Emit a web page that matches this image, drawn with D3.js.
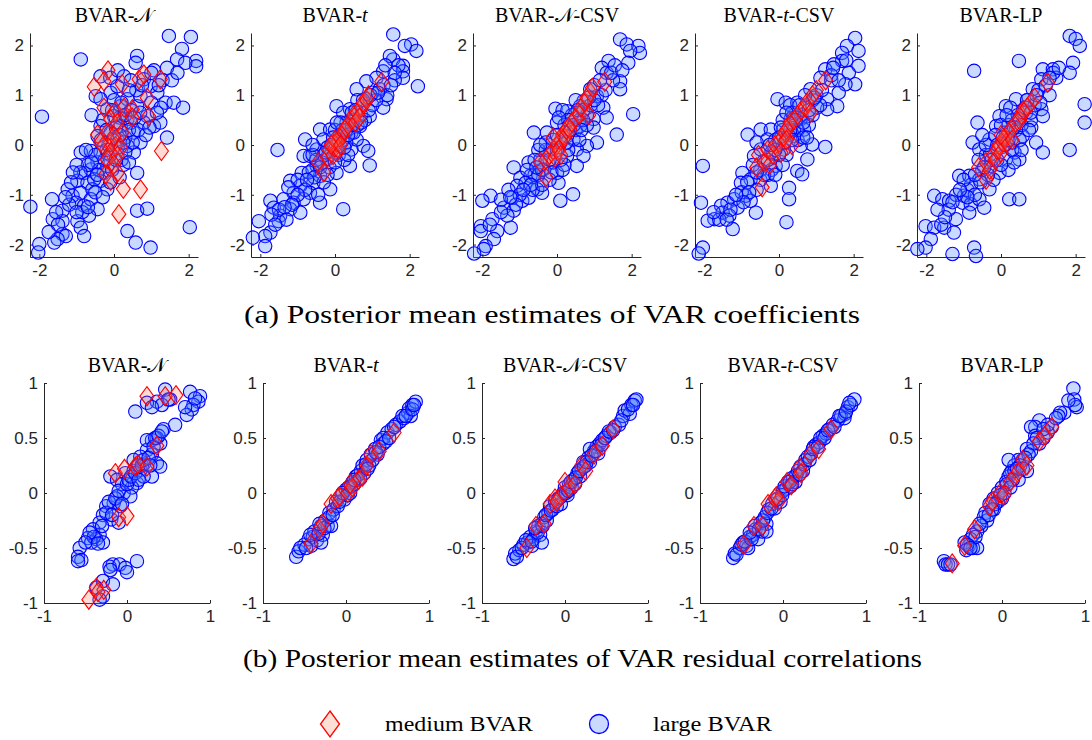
<!DOCTYPE html>
<html>
<head>
<meta charset="utf-8">
<script src="https://cdn.jsdelivr.net/npm/d3@7"></script>
<style>
  body { margin: 0; background: #fff; }
  .domain, .tick line { stroke: #262626; }
</style>
</head>
<body>
<script>
// panel titles: [plain part, math part, trailing part]
const titles = [
  ["BVAR-", "𝒩", ""],
  ["BVAR-", "t", ""],
  ["BVAR-", "𝒩", "-CSV"],
  ["BVAR-", "t", "-CSV"],
  ["BVAR-LP", "", ""]
];
const coefTicksY = [-2, -1, 0, 1, 2];
const coefTicksX = [-2, 0, 2];
const corrTicksY = [-1, -0.5, 0, 0.5, 1];
const corrTicksX = [-1, 0, 1];
const captionA = "(a) Posterior mean estimates of VAR coefficients";
const captionB = "(b) Posterior mean estimates of VAR residual correlations";
const legendLabels = ["medium BVAR", "large BVAR"];

// (a) VAR coefficients, large BVAR (circles)
const coefLargeN = [[1.47,2.19],[2.06,2.17],[1.82,1.93],[-0.89,1.72],[0.62,1.79],[0.58,1.65],[1.69,1.72],[2.2,1.69],[2.2,1.58],[1.91,1.65],
  [1.07,1.5],[1.42,1.55],[-0.36,1.38],[0.27,1.38],[0.8,1.32],[-0.49,0.98],[-0.09,1.05],[0.09,1.18],[0.98,1.18],[1.16,1.05],
  [1.38,0.85],[1.6,0.85],[1.85,0.75],[-1.93,0.57],[-0.18,0.72],[0.18,0.78],[0.62,0.78],[0.89,0.58],[1.07,0.38],[1.24,0.45],
  [1.42,0.15],[-0.36,0.38],[-0.44,0.18],[0.53,0.25],[0.71,0.05],[-0.89,-0.15],[-0.62,-0.12],[-0.36,-0.15],[0.53,-0.15],[0.36,-0.02],
  [-0.44,-0.35],[-0.8,-0.56],[-0.62,-0.49],[-0.27,-0.56],[0.62,-0.56],[-0.98,-0.72],[-0.71,-0.76],[-0.36,-0.72],[-0.18,-0.89],[-1.24,-0.89],
  [-1.11,-1.02],[-0.89,-0.96],[-0.58,-0.89],[-1.66,-1.09],[-1.38,-1.32],[-1.02,-1.16],[-0.8,-1.22],[-0.62,-1.09],[-0.44,-1.29],[-2.24,-1.24],
  [-1.64,-1.49],[-1.38,-1.53],[-0.98,-1.53],[-0.67,-1.42],[-0.89,-1.66],[-1.38,-1.79],[-1.29,-1.83],[-1.51,-1.89],[-1.6,-1.96],[-0.8,-1.83],
  [-2.0,-1.99],[-2.03,-2.16],[0.36,-1.73],[0.58,-1.96],[0.98,-2.06],[0.62,-1.32],[0.89,-1.28],[2.03,-1.65],[0.18,0.38],[0.36,0.52],
  [-0.09,0.25],[0.09,0.11],[0,0.58],[0.36,0.92],[-0.36,0.92],[0.71,0.98],[-0.18,-0.42],[-0.53,-0.69],[0.2,-0.3],[-0.1,-0.2],
  [-0.3,0.5],[-0.2,0.3],[0,0.9],[0.15,0.55],[0.45,0.45],[0.3,0.15],[0.1,-0.05],[-0.05,-0.5],[-0.25,-0.3],[0.25,-0.4],
  [0.45,0.7],[0.6,1.1],[0.75,1.2],[1.0,0.85],[1.25,0.75],[-0.5,-0.2],[-0.7,-0.4],[-1.0,-0.4],[-1.15,-0.75],[-0.5,-0.95],
  [-0.3,-1.05],[0.4,0.3],[0.65,0.3],[0.85,0.2],[1.3,1.3],[1.0,1.45],[-0.1,1.35],[0.4,1.1],[-0.6,0.6],[-0.15,0],
  [0.05,0.35],[0.3,-0.15],[0.8,0.45],[1.15,0.65],[-0.85,-1.35],[-1.2,-1.2],[-1.5,-1.6],[-1.75,-1.75],[0.5,0.05],[0.2,0.85],
  [-0.4,-0.5],[-0.75,-0.1],
  [-0.35,0.1],[-0.2,-0.1],[0.05,-0.3],[0.25,0.05],[0.15,0.2],[-0.05,0.7],[0.3,0.6],[0.55,0.55],[0.7,0.65],[0.95,0.35],
  [-0.6,-0.35],[-0.45,-0.6],[-0.9,-0.55],[-1.1,-0.55],[-1.3,-1.05],[-1.0,-1.35],[-0.7,-1.25],[-1.55,-1.35],[0.45,1.3],[0.1,1.5],
  [1.2,1.2],[1.55,1.3],[1.7,1.45],[-0.1,-0.75],[0.15,-0.65],[0.4,-0.35]];
const coefLargeT = [[1.56,2.22],[2.04,2.02],[1.87,1.99],[2.18,1.89],[1.56,1.72],[1.47,1.79],[1.82,1.59],[1.82,1.48],[1.82,1.35],[2.22,1.18],
  [1.29,1.48],[1.11,1.35],[0.84,1.28],[0.58,1.12],[1.38,0.92],[1.29,0.75],[0.04,0.78],[0.4,0.72],[0.93,0.58],[0.31,0.45],
  [-0.4,0.31],[-0.13,0.31],[-0.8,0.11],[-1.54,-0.1],[-0.67,-0.22],[-0.49,-0.09],[-0.13,-0.09],[0.44,-0.09],[0.76,-0.02],[0.89,-0.12],
  [0.44,0.25],[0.93,-0.41],[0.4,-0.42],[0.04,-0.56],[-0.4,-0.62],[-0.89,-0.56],[-0.58,-0.76],[-1.2,-0.72],[-0.93,-0.82],[-0.67,-0.96],
  [-0.13,-0.89],[-1.11,-0.96],[-0.84,-1.09],[-1.11,-1.16],[-1.38,-1.09],[-0.4,-1.16],[-1.73,-1.12],[-1.64,-1.26],[-1.2,-1.29],[-0.93,-1.36],
  [-1.47,-1.42],[0.22,-1.29],[-1.51,-1.53],[-2.04,-1.53],[-1.73,-1.76],[-1.87,-1.83],[-2.2,-1.86],[-1.87,-2.03],[-0.31,0.11],[0.13,0.18],
  [0.58,0.11],[-0.49,-0.42],[-0.22,-0.29],[0.67,0.38],[0.84,0.92],[1.2,1.12],[0.22,0.65],[-0.84,-0.22],[0.1,-0.2],[0.3,0.05],
  [-0.3,-0.2],[0.5,0.5],[1.0,0.8],[-0.6,-0.5],[0,0.3],
  [0.6,0.4],[0.7,0.6],[0.5,0.25],[0.2,0.1],[0,-0.15],[-0.2,-0.05],[-0.35,-0.35],[-0.5,-0.3],[-0.7,-0.55],[-0.3,-0.75],
  [0.15,0.45],[0.3,0.3],[0.8,0.5],[1.0,1.05],[1.1,0.9],[1.3,1.2],[1.4,1.0],[1.6,1.3],[-1.0,-0.7],[-1.25,-0.85],
  [-1.5,-1.3],[-1.7,-1.4],[0.25,-0.3],[-0.05,0.15],[0.6,0.9],[0.9,0.7],[-0.6,-0.2],[-0.8,-0.9],[0.45,0.65],[-0.15,-0.45],
  [0.35,-0.2],[1.7,1.6],[1.5,1.2],[-0.45,-1.0],
  [-0.1,0],[0.1,0.1],[0.2,0.3],[0.35,0.2],[0.45,0.4],[0.55,0.7],[0.7,0.45],[0.75,0.9],[0.95,1.0],[1.15,1.05],
  [-0.25,-0.15],[-0.4,-0.45],[-0.55,-0.65],[-0.75,-0.7],[-1.0,-1.0],[-1.15,-1.2],[-1.35,-1.25],[-0.2,-0.6],[0,-0.35],[-0.6,0],
  [-1.3,-1.5],[-1.6,-1.6],[1.6,1.45],[1.35,1.6],[0.25,-0.05],[0.05,0.45]];
const coefLargeNCSV = [[1.69,2.12],[1.87,2.02],[2.18,1.99],[2.22,1.85],[1.96,1.89],[1.91,1.65],[1.38,1.69],[1.2,1.55],[1.33,1.45],[1.69,1.28],
  [1.69,1.12],[0.89,1.12],[1.07,0.98],[0.71,0.88],[0.62,0.78],[1.24,0.75],[2.04,0.62],[1.33,0.55],[0.98,0.52],[-0.04,0.73],
  [0.27,0.68],[-0.62,0.25],[-0.27,0.25],[0.98,0.35],[1.6,0.21],[1.07,0.05],[0.8,-0.02],[0.53,-0.09],[0.27,-0.22],[0.71,-0.22],
  [0.53,-0.42],[-1.16,-0.45],[-0.76,-0.35],[-0.44,-0.29],[-0.98,-0.66],[-0.71,-0.62],[0,-0.56],[0.04,-0.76],[-1.07,-0.82],[-0.84,-0.76],
  [-0.53,-0.89],[-0.4,-0.96],[-1.2,-1.06],[-0.93,-1.12],[-0.76,-1.06],[-1.78,-1.02],[-2.0,-1.12],[0.09,-1.12],[0.43,-0.99],[-1.42,-1.26],
  [-1.16,-1.32],[-1.33,-1.42],[-1.73,-1.49],[-1.24,-1.66],[-2.04,-1.63],[-2.04,-1.73],[-1.6,-1.73],[-1.69,-1.89],[-1.91,-2.03],[-1.96,-2.09],
  [-2.22,-2.18],[-0.18,-0.09],[0.27,0.18],[0.62,0.38],[-0.36,-0.49],[0.44,0.11],[0,0.45],[0.5,0.3],[-0.6,-0.6],[0.2,-0.4],
  [-0.1,0.1],[0.8,0.6],[1.2,1.0],[-0.5,-0.1],
  [0.4,0.6],[0.6,0.5],[0.2,0.4],[0.1,-0.3],[-0.3,-0.1],[-0.6,-0.3],[-0.8,-0.5],[0.3,-0.1],[0.7,0.7],[0.9,0.8],
  [1.0,1.2],[1.3,1.1],[1.5,1.3],[-0.2,-0.7],[-0.5,-0.6],[-1.3,-0.9],[-1.5,-1.1],[0.5,0.9],[0.8,0.4],[0,0.2],
  [-0.1,-0.35],[0.35,0.3],[-0.65,-0.9],[-1.0,-1.0],[1.1,0.8],[1.45,1.45],[0.6,0.1],[-0.3,0.05],[0.15,0.7],[-0.4,-0.8],
  [-0.2,-0.3],[0,-0.1],[0.1,0.05],[0.25,0.05],[0.3,0.5],[0.45,0.4],[0.55,0.7],[0.7,0.5],[0.85,0.95],[1.0,0.9],
  [1.15,1.3],[-0.4,-0.5],[-0.55,-0.45],[-0.7,-0.8],[-0.9,-0.9],[-1.1,-1.2],[-1.25,-1.05],[-0.15,-0.55],[0.15,-0.5],[-0.45,0],
  [0.05,0.55],[0.65,0.3],[-1.5,-1.35],[-1.8,-1.6],[1.55,1.6],[1.75,1.5]];
const coefLargeTCSV = [[2.04,2.15],[1.82,1.99],[2.13,1.89],[1.69,1.85],[1.69,1.69],[1.47,1.62],[2.13,1.59],[1.87,1.45],[1.24,1.52],[1.11,1.35],
  [2.04,1.22],[1.78,1.22],[0.84,1.12],[1.6,1.05],[1.29,0.92],[-0.04,0.92],[0.18,0.85],[0.49,0.85],[1.56,0.78],[1.29,0.72],
  [1.02,0.75],[0.76,0.58],[0.58,0.52],[-0.49,0.31],[-0.22,0.31],[-0.84,0.21],[0.67,0.31],[0.4,0.18],[0.89,0.01],[1.24,-0.04],
  [0.58,-0.02],[-2.04,-0.42],[-0.67,-0.22],[-0.4,-0.32],[-0.09,-0.42],[0.49,-0.52],[0.62,-0.59],[-0.98,-0.56],[-0.76,-0.69],[-1.02,-0.76],
  [-0.22,-0.82],[0.27,-0.86],[0.27,-1.09],[-0.89,-1.02],[-1.2,-1.09],[-1.38,-1.16],[-0.76,-1.12],[-2.09,-1.16],[-1.55,-1.22],[-1.11,-1.26],
  [-1.73,-1.49],[-1.91,-1.52],[-1.51,-1.36],[-1.33,-1.42],[-0.62,-1.36],[-1.24,-1.69],[0.2,-1.55],[-2.04,-2.06],[-2.15,-2.18],[0.13,-0.09],
  [-0.31,0.11],[-0.49,-0.09],[0.76,-0.29],[0.31,0.52],[0.1,0.3],[-0.2,-0.5],[0.4,0.6],[0.9,0.9],[-0.5,-0.7],[1.4,1.3],
  [0.4,0.3],[0.6,0.6],[0.5,0.1],[0.2,-0.2],[0,-0.2],[-0.3,-0.3],[-0.5,-0.5],[0.1,0.5],[0.3,0.8],[0.8,0.4],
  [1.0,1.0],[1.1,0.8],[1.4,1.4],[-0.7,-0.4],[-0.6,-0.9],[-0.3,-0.6],[-1.0,-0.95],[0.5,0.3],[0.7,1.0],[0.9,0.6],
  [-0.1,0.1],[0.25,0.2],[-1.3,-1.3],[-1.6,-1.5],[1.6,1.3],[0.65,0.15],[-0.2,-0.15],[0.35,0.65],[-0.85,-0.75],[0.05,0.35],
  [-0.1,-0.1],[0,0.15],[0.15,0.05],[0.3,0.3],[0.35,0.1],[0.45,0.5],[0.55,0.8],[0.65,0.45],[0.8,0.7],[0.95,0.95],
  [1.15,1.1],[-0.25,0],[-0.4,-0.6],[-0.6,-0.55],[-0.8,-0.95],[-0.95,-1.15],[-1.15,-1.0],[-0.1,-0.6],[0.1,-0.4],[-0.6,0.05],
  [0.2,0.65],[0.75,0.15],[-1.4,-1.5],[-1.75,-1.35],[1.45,1.55],[1.8,1.7]];
const coefLargeLP = [[1.84,2.19],[2.0,2.13],[2.11,1.99],[0.48,1.69],[-0.72,1.49],[1.93,1.65],[1.84,1.45],[1.12,1.52],[1.39,1.52],[1.48,1.35],
  [1.08,1.32],[0.85,1.12],[2.24,0.82],[2.24,0.45],[0.4,0.92],[0.13,0.78],[1.08,0.72],[1.12,0.58],[-0.63,0.45],[-0.13,0.38],
  [0.81,0.35],[0.58,0.18],[0.94,0.05],[1.12,-0.15],[1.84,-0.1],[-0.76,0.05],[-0.58,-0.09],[0.36,-0.15],[0.49,-0.29],[0.13,-0.29],
  [-0.27,-0.42],[-0.04,-0.56],[-1.12,-0.62],[-0.85,-0.62],[-0.58,-0.69],[-0.31,-0.89],[-0.99,-1.02],[-1.79,-1.02],[-1.57,-1.09],[-1.39,-1.12],
  [-1.03,-1.16],[-0.81,-1.19],[-0.58,-1.09],[0.22,-1.09],[0.49,-1.09],[-0.85,-1.36],[-0.45,-1.26],[-1.21,-1.49],[-2.02,-1.63],[-1.79,-1.66],
  [-1.52,-1.66],[-1.26,-1.76],[-1.88,-1.89],[-2.02,-2.06],[-2.24,-2.09],[-1.3,-2.19],[-0.72,-2.06],[-0.67,-2.23],[0.13,0.25],[0.31,0.05],
  [-0.31,0.11],[-0.13,-0.09],[0.67,0.65],[0.49,0.52],[-0.04,0.58],[0.2,0.4],[-0.4,-0.2],[0.7,0.9],[-0.9,-0.9],[0.3,-0.1],
  [0.4,0.3],[0.6,0.7],[0.3,0.5],[0.1,0],[-0.1,-0.3],[-0.3,-0.2],[-0.5,-0.5],[-0.6,-0.3],[0.7,0.9],[0.9,0.8],
  [1.0,1.1],[1.2,1.2],[1.4,1.45],[0.2,-0.5],[-0.2,-0.7],[-0.8,-0.8],[-1.0,-0.7],[-1.2,-1.0],[-1.4,-1.3],[-1.6,-1.6],
  [0.5,0.1],[0.8,0.5],[0,0.4],[-0.4,0],[0.25,0.75],[-0.15,0.2],[0.55,-0.1],[-0.7,-1.0],[1.3,1.0],[-0.35,-0.6],
  [-0.1,0],[0.05,0.15],[0.2,0.1],[0.35,0.35],[0.45,0.6],[0.55,0.4],[0.65,0.75],[0.8,0.65],[0.95,1.0],[1.05,0.85],
  [1.3,1.35],[-0.25,-0.3],[-0.45,-0.45],[-0.55,-0.75],[-0.7,-0.6],[-0.9,-1.05],[-1.1,-0.9],[-1.3,-1.15],[0,-0.4],[0.35,-0.35],
  [-0.5,0.2],[0.15,0.6],[0.75,0.3],[-1.5,-1.45],[-1.7,-1.3],[1.55,1.55]];

// (a) VAR coefficients, medium BVAR (diamonds)
const coefMediumN = [[-0.16,1.5],[-0.53,1.17],[-0.27,1.28],[0.22,1.22],[0.67,1.32],[0.8,1.42],[1.24,1.32],[0.89,0.95],[-0.27,0.75],[0.04,0.68],
  [0.27,0.75],[0.49,0.72],[0.49,0.55],[0.93,0.58],[-0.09,0.52],[0.09,0.45],[-0.44,0.21],[-0.18,0.25],[0.22,0.25],[-0.27,-0.02],
  [-0.09,0.05],[0.04,-0.02],[0.18,-0.05],[-0.09,-0.15],[0.09,-0.22],[-0.18,-0.29],[0,-0.39],[-0.22,-0.59],[0.09,-0.56],[-0.09,-0.72],
  [0.25,-0.88],[0.71,-0.89],[0.13,-1.39],[1.27,-0.12],[-0.36,0.05],[0,0.18]];
const coefMediumT = [[-0.45,-0.35],[-0.3,-0.55],[-0.2,-0.25],[-0.15,-0.1],[-0.05,-0.2],[0,-0.05],[0.05,0.05],[0.1,-0.1],[0.12,0.15],[0.2,0.2],
  [0.25,0.3],[0.3,0.35],[0.35,0.4],[0.45,0.5],[0.5,0.6],[0.6,0.65],[0.7,0.75],[0.75,0.85],[0.85,0.9],[0.9,1.0],
  [1.25,1.27],[0,0.1],[-0.1,0],[0.15,0],[0.55,0.45],[0.65,0.55]];
const coefMediumNCSV = [[-0.45,-0.35],[-0.3,-0.65],[-0.3,-0.3],[-0.2,-0.2],[-0.1,-0.1],[-0.05,-0.25],[0,0],[0.05,-0.1],[0.1,0.1],[0.15,0.2],
  [0.2,0.15],[0.25,0.3],[0.3,0.35],[0.35,0.3],[0.4,0.45],[0.5,0.55],[0.6,0.6],[0.65,0.75],[0.75,0.85],[0.8,0.95],
  [0.85,0.6],[0.9,1.05],[0.95,1.15],[1.28,1.27],[-0.1,0.15],[0.1,-0.2]];
const coefMediumTCSV = [[-0.55,-0.2],[-0.6,-0.45],[-0.45,-0.85],[-0.4,-0.35],[-0.3,-0.1],[-0.25,-0.4],[-0.15,-0.2],[-0.1,0],[0,0.05],[0.05,-0.15],
  [0.1,0.15],[0.15,0.25],[0.2,0.3],[0.25,0.35],[0.3,0.45],[0.35,0],[0.4,0.5],[0.5,0.6],[0.6,0.7],[0.7,0.75],
  [0.75,0.85],[0.85,0.65],[0.9,1.0],[1.0,1.1],[1.25,1.3],[0.2,0.1]];
const coefMediumLP = [[-0.6,-0.45],[-0.4,-0.7],[-0.4,-0.35],[-0.3,-0.5],[-0.2,-0.2],[-0.15,-0.3],[-0.1,-0.1],[-0.05,0],[0,-0.15],[0.05,0.05],
  [0.1,0.15],[0.15,0.05],[0.2,0.25],[0.25,0.3],[0.4,0.45],[0.5,0.5],[0.55,0.6],[0.6,0.7],[0.7,0.75],[0.8,0.85],
  [0.9,0.95],[1.25,1.25],[0,0.2],[0.3,0.1]];

// (b) residual correlations, large BVAR (circles)
const corrLargeN = [[0.46,0.94],[0.76,0.92],[0.88,0.88],[0.86,0.83],[0.8,0.8],[0.78,0.76],[0.72,0.71],[0.58,0.62],[0.36,0.83],[0.24,0.82],
  [0.52,0.85],[0.42,0.8],[0.1,0.74],[0.44,0.58],[0.36,0.5],[0.3,0.48],[0.4,0.45],[0.24,0.39],[0.3,0.35],[0.16,0.33],
  [0.08,0.3],[0.36,0.27],[0.4,0.24],[-0.2,0.15],[-0.12,0.12],[-0.02,0.18],[0.3,0.15],[0.12,0.09],[0.06,0.05],[-0.04,0],
  [-0.12,-0.03],[0.04,-0.03],[-0.16,-0.09],[-0.08,-0.12],[-0.25,-0.12],[-0.29,-0.2],[-0.19,-0.24],[-0.1,-0.27],[-0.33,-0.27],[-0.41,-0.33],
  [-0.33,-0.38],[-0.47,-0.41],[-0.37,-0.42],[-0.43,-0.45],[-0.29,-0.45],[-0.57,-0.5],[-0.59,-0.58],[-0.55,-0.61],[-0.59,-0.62],[-0.17,-0.65],
  [-0.21,-0.67],[-0.09,-0.65],[-0.02,-0.68],[0.12,-0.62],[-0.29,-0.8],[-0.17,-0.83],[-0.37,-0.86],[-0.29,-0.94],[-0.33,-0.97],[0.08,0.2],
  [0.16,0.21],[0.24,0.48],[0.2,0.26],[-0.06,0.08],[0.14,0.25],
  [-0.25,-0.18],[-0.22,-0.08],[-0.18,-0.2],[-0.14,-0.05],[-0.1,0.02],[-0.06,-0.1],[0,0.08],[0.02,0.12],[0.05,0.15],[0.1,0.18],
  [0.18,0.25],[0.2,0.3],[0.26,0.32],[0.32,0.42],[0.34,0.5],[0.38,0.52],[0.42,0.56],[0.28,0.25],[0.2,0.15],[0.14,0.12],
  [-0.3,-0.3],[-0.4,-0.4],[-0.45,-0.36],[-0.5,-0.45],[-0.35,-0.46],[0.5,0.85],[0.3,0.78],[0.7,0.78],[0.82,0.86],[-0.2,-0.7],[0,-0.72]];
const corrLargeT = [[-0.6,-0.58],[-0.57,-0.53],[-0.5,-0.47],[-0.45,-0.42],[-0.4,-0.4],[-0.38,-0.35],[-0.35,-0.43],[-0.3,-0.3],[-0.28,-0.38],[-0.25,-0.25],
  [-0.22,-0.3],[-0.2,-0.18],[-0.15,-0.15],[-0.12,-0.08],[-0.1,-0.12],[-0.05,-0.02],[-0.02,-0.06],[0,0.03],[0.03,0.05],[0.05,0],
  [0.08,0.1],[0.1,0.08],[0.12,0.15],[0.15,0.12],[0.18,0.2],[0.2,0.25],[0.22,0.18],[0.25,0.3],[0.28,0.25],[0.3,0.35],
  [0.35,0.4],[0.38,0.35],[0.42,0.48],[0.45,0.45],[0.5,0.55],[0.55,0.58],[0.6,0.62],[0.65,0.65],[0.7,0.68],[0.75,0.73],
  [0.76,0.77],[0.8,0.8],[0.84,0.83],[0.78,0.7],[-0.42,-0.48],[-0.3,-0.45],[-0.18,-0.3],[0.45,0.5],
  [-0.55,-0.5],[-0.48,-0.5],[-0.43,-0.38],[-0.33,-0.37],[-0.26,-0.32],[-0.2,-0.22],[-0.16,-0.2],[-0.08,-0.08],[-0.04,0],[0.02,-0.02],
  [0.06,0.06],[0.14,0.16],[0.17,0.13],[0.24,0.26],[0.32,0.3],[0.36,0.37],[0.4,0.42],[0.48,0.47],[0.52,0.5],[0.58,0.6],
  [0.68,0.7],[0.72,0.7],[0.8,0.76],[0.82,0.8],[-0.32,-0.28],[0.1,0.12],[0.26,0.22]];
const corrLargeNCSV = [[-0.62,-0.6],[-0.6,-0.55],[-0.55,-0.52],[-0.5,-0.47],[-0.45,-0.45],[-0.42,-0.4],[-0.38,-0.42],[-0.35,-0.35],[-0.32,-0.3],[-0.3,-0.38],
  [-0.28,-0.28],[-0.25,-0.22],[-0.22,-0.25],[-0.2,-0.18],[-0.18,-0.12],[-0.15,-0.15],[-0.12,-0.08],[-0.08,-0.05],[-0.05,-0.1],[-0.02,0],
  [0,0.05],[0.03,-0.02],[0.05,0.08],[0.08,0.05],[0.1,0.12],[0.12,0.08],[0.15,0.18],[0.18,0.15],[0.2,0.22],[0.22,0.28],
  [0.25,0.25],[0.28,0.32],[0.3,0.28],[0.35,0.38],[0.38,0.42],[0.42,0.45],[0.45,0.48],[0.5,0.52],[0.55,0.55],[0.6,0.6],
  [0.65,0.62],[0.7,0.7],[0.72,0.75],[0.78,0.72],[0.8,0.8],[0.84,0.84],[0.86,0.85],[-0.4,-0.48],[-0.28,-0.45],[0.3,0.4],[0.4,0.36],
  [-0.58,-0.58],[-0.52,-0.5],[-0.47,-0.43],[-0.4,-0.44],[-0.33,-0.36],[-0.27,-0.3],[-0.23,-0.2],[-0.17,-0.16],[-0.1,-0.12],[-0.06,-0.04],
  [0.01,0],[0.04,0.02],[0.07,0.1],[0.13,0.14],[0.17,0.2],[0.23,0.24],[0.26,0.28],[0.32,0.34],[0.37,0.38],[0.44,0.44],
  [0.48,0.5],[0.53,0.56],[0.58,0.57],[0.68,0.66],[0.76,0.76],[0.82,0.8],[-0.36,-0.32]];
const corrLargeTCSV = [[-0.6,-0.59],[-0.58,-0.55],[-0.52,-0.5],[-0.48,-0.45],[-0.44,-0.48],[-0.4,-0.4],[-0.36,-0.38],[-0.33,-0.33],[-0.3,-0.42],[-0.27,-0.27],
  [-0.25,-0.35],[-0.22,-0.22],[-0.2,-0.28],[-0.17,-0.15],[-0.13,-0.1],[-0.1,-0.14],[-0.06,-0.05],[-0.03,-0.08],[0,0.02],[0.04,0.04],
  [0.06,0.1],[0.09,0.06],[0.12,0.14],[0.15,0.1],[0.18,0.2],[0.21,0.24],[0.24,0.2],[0.27,0.3],[0.3,0.33],[0.34,0.36],
  [0.37,0.42],[0.4,0.44],[0.44,0.46],[0.48,0.52],[0.52,0.54],[0.56,0.58],[0.6,0.62],[0.66,0.66],[0.7,0.7],[0.75,0.72],
  [0.78,0.78],[0.82,0.8],[0.86,0.85],[0.74,0.68],[-0.42,-0.5],[-0.2,-0.35],[0.45,0.5],
  [-0.56,-0.56],[-0.5,-0.47],[-0.46,-0.44],[-0.38,-0.42],[-0.34,-0.3],[-0.29,-0.33],[-0.24,-0.25],[-0.19,-0.18],[-0.14,-0.14],[-0.08,-0.06],
  [-0.01,-0.02],[0.02,0.06],[0.08,0.1],[0.11,0.08],[0.16,0.16],[0.2,0.17],[0.26,0.26],[0.32,0.3],[0.36,0.4],[0.42,0.42],
  [0.5,0.5],[0.54,0.57],[0.62,0.6],[0.68,0.7],[0.76,0.74],[0.8,0.82],[-0.4,-0.36]];
const corrLargeLP = [[0.86,0.95],[0.87,0.85],[0.9,0.78],[0.88,0.8],[0.75,0.73],[0.7,0.73],[0.68,0.7],[0.45,0.66],[0.4,0.6],[0.35,0.6],
  [0.4,0.52],[0.45,0.45],[0.5,0.5],[0.3,0.4],[0.35,0.38],[0.25,0.3],[0.2,0.3],[0.15,0.25],[0.12,0.2],[0.08,0.15],
  [0.05,0.1],[0.1,0.18],[0.2,0.12],[0,0.05],[-0.05,0],[-0.1,-0.05],[-0.15,-0.1],[-0.05,-0.08],[-0.2,-0.18],[-0.18,-0.25],
  [-0.25,-0.3],[-0.3,-0.35],[-0.35,-0.38],[-0.38,-0.42],[-0.4,-0.48],[-0.35,-0.5],[-0.3,-0.5],[-0.45,-0.45],[-0.7,-0.62],[-0.68,-0.65],
  [-0.65,-0.65],[-0.62,-0.65],[0.3,0.2],[-0.1,-0.15],[0,-0.05],[0.6,0.6],[0.55,0.55],[0.15,0.2],[0.08,0.3],
  [0.55,0.62],[0.5,0.58],[0.42,0.5],[0.38,0.45],[0.32,0.35],[0.28,0.32],[0.22,0.25],[0.18,0.22],[0.13,0.12],[0.06,0.08],
  [0.03,0],[-0.02,-0.02],[-0.08,-0.1],[-0.12,-0.15],[-0.22,-0.22],[-0.27,-0.28],[-0.32,-0.4],[-0.42,-0.47],[-0.43,-0.52],[-0.38,-0.5],
  [0.8,0.84],[0.65,0.68],[0.25,0.22],[0.1,0.05],[-0.16,-0.2]];

// (b) residual correlations, medium BVAR (diamonds)
const corrMediumN = [[0.24,0.88],[0.46,0.88],[0.59,0.89],[0.36,0.43],[-0.14,0.18],[-0.03,0.22],[0.1,0.24],[0.13,0.26],[0.24,0.24],[-0.1,-0.22],
  [0,-0.21],[-0.37,-0.86],[-0.28,-0.88],[-0.46,-0.97],[-0.35,-0.9]];
const corrMediumT = [[-0.42,-0.46],[-0.32,-0.33],[-0.28,-0.28],[-0.18,-0.1],[-0.1,-0.05],[-0.08,-0.03],[0.02,0],[0.08,0.05],[0.15,0.12],[0.2,0.15],
  [0.25,0.25],[0.3,0.35],[0.4,0.38],[0.58,0.55],[0.05,0.08]];
const corrMediumNCSV = [[-0.46,-0.5],[-0.35,-0.3],[-0.25,-0.28],[-0.18,-0.1],[-0.12,-0.05],[-0.05,-0.03],[0,0.1],[0.05,0.05],[0.12,0.08],[0.2,0.25],
  [0.25,0.2],[0.35,0.35],[0.45,0.43],[0.58,0.58],[-0.1,-0.08]];
const corrMediumTCSV = [[-0.47,-0.47],[-0.35,-0.3],[-0.25,-0.3],[-0.18,-0.1],[-0.1,-0.05],[-0.05,-0.07],[0.05,0.1],[0.1,0.07],[0.2,0.23],[0.22,0.18],
  [0.33,0.35],[0.43,0.4],[0.58,0.58],[-0.08,-0.03]];
const corrMediumLP = [[-0.6,-0.64],[-0.45,-0.48],[-0.33,-0.33],[-0.15,-0.12],[-0.12,-0.08],[-0.02,0],[0.02,-0.02],[0.1,0.1],[0.15,0.15],[0.2,0.2],
  [0.25,0.3],[0.3,0.25],[0.45,0.47],[0.52,0.52],[0.6,0.6]];

const coefLarge = [coefLargeN, coefLargeT, coefLargeNCSV, coefLargeTCSV, coefLargeLP];
const coefMedium = [coefMediumN, coefMediumT, coefMediumNCSV, coefMediumTCSV, coefMediumLP];
const corrLarge = [corrLargeN, corrLargeT, corrLargeNCSV, corrLargeTCSV, corrLargeLP];
const corrMedium = [corrMediumN, corrMediumT, corrMediumNCSV, corrMediumTCSV, corrMediumLP];

const serif = "'Liberation Serif', 'Times New Roman', Tinos, serif"
const sans = "'Liberation Sans', Arial, Helvetica, sans-serif"

const svg = d3.select("body").append("svg")
  .attr("width", 1092)
  .attr("height", 740)

const circleStyle = g => g.attr("fill", "rgb(77,128,255)").attr("fill-opacity", 0.3)
  .attr("stroke", "#0000ff").attr("stroke-width", 1.1)
const diamondStyle = g => g.attr("fill", "rgb(255,110,80)").attr("fill-opacity", 0.25)
  .attr("stroke", "#ff0000").attr("stroke-width", 1.1)

function diamondPath(w, h) {
  return `M0,${-h}L${w},0L0,${h}L${-w},0Z`
}

function drawTitle(cx, baseline, t) {
  let txt = svg.append("text")
    .attr("x", cx).attr("y", baseline)
    .attr("text-anchor", "middle")
    .attr("font-family", serif)
    .attr("font-size", 20)
  txt.append("tspan").text(t[0])
  if (t[1]) txt.append("tspan").attr("font-style", t[1] == "t" ? "italic" : "normal").text(t[1])
  if (t[2]) txt.append("tspan").text(t[2])
}

// one scatter panel: left/top/width/height of the axes box, domain, ticks, data
function drawPanel(left, top, w, h, dom, ticksX, ticksY, large, medium, title) {
  let x = d3.scaleLinear().domain(dom).range([left, left + w])
  let y = d3.scaleLinear().domain(dom).range([top + h, top])

  svg.append("g")
    .attr("transform", `translate(0,${top + h})`)
    .call(d3.axisBottom(x).tickValues(ticksX).tickFormat(d => String(d))
      .tickSizeInner(-3).tickSizeOuter(0).tickPadding(7))
    .attr("font-family", sans).attr("font-size", 17)
    .selectAll("text").attr("fill", "#262626")
  svg.append("g")
    .attr("transform", `translate(${left},0)`)
    .call(d3.axisLeft(y).tickValues(ticksY).tickFormat(d => String(d))
      .tickSizeInner(-3).tickSizeOuter(0).tickPadding(6))
    .attr("font-family", sans).attr("font-size", 17)
    .selectAll("text").attr("fill", "#262626")

  svg.append("g").selectAll("circle")
    .data(large).join("circle")
    .attr("cx", d => x(d[0]))
    .attr("cy", d => y(d[1]))
    .attr("r", 6.7)
    .call(circleStyle)

  svg.append("g").selectAll("path")
    .data(medium).join("path")
    .attr("d", diamondPath(7, 9.5))
    .attr("transform", d => `translate(${x(d[0])},${y(d[1])})`)
    .call(diamondStyle)

  drawTitle(left + w / 2, top - 11, title)
}

const topLefts = [30, 251, 473, 695, 917]
const bottomLefts = [44, 263, 482, 700, 919]

titles.forEach((t, i) => {
  drawPanel(topLefts[i], 33, 168, 224, [-2.25, 2.25], coefTicksX, coefTicksY, coefLarge[i], coefMedium[i], t)
  drawPanel(bottomLefts[i], 383, 166, 220, [-1, 1], corrTicksX, corrTicksY, corrLarge[i], corrMedium[i], t)
})

// captions
function caption(x, y, len, size, str) {
  svg.append("text")
    .attr("x", x).attr("y", y)
    .attr("font-family", serif).attr("font-size", size)
    .attr("textLength", len).attr("lengthAdjust", "spacingAndGlyphs")
    .text(str)
}
caption(244, 323, 616, 25, captionA)
caption(243, 667, 679, 25, captionB)

// legend
svg.append("path")
  .attr("d", diamondPath(9.5, 13))
  .attr("transform", "translate(330,724)")
  .attr("fill", "#fde0d5").attr("stroke", "#ff0000").attr("stroke-width", 1.3)
caption(385, 731, 148, 22, legendLabels[0])
svg.append("circle")
  .attr("cx", 599).attr("cy", 724).attr("r", 9.5)
  .attr("fill", "#cad9ff").attr("stroke", "#0000ff").attr("stroke-width", 1.3)
caption(653, 731, 119, 22, legendLabels[1])
</script>
</body>
</html>
